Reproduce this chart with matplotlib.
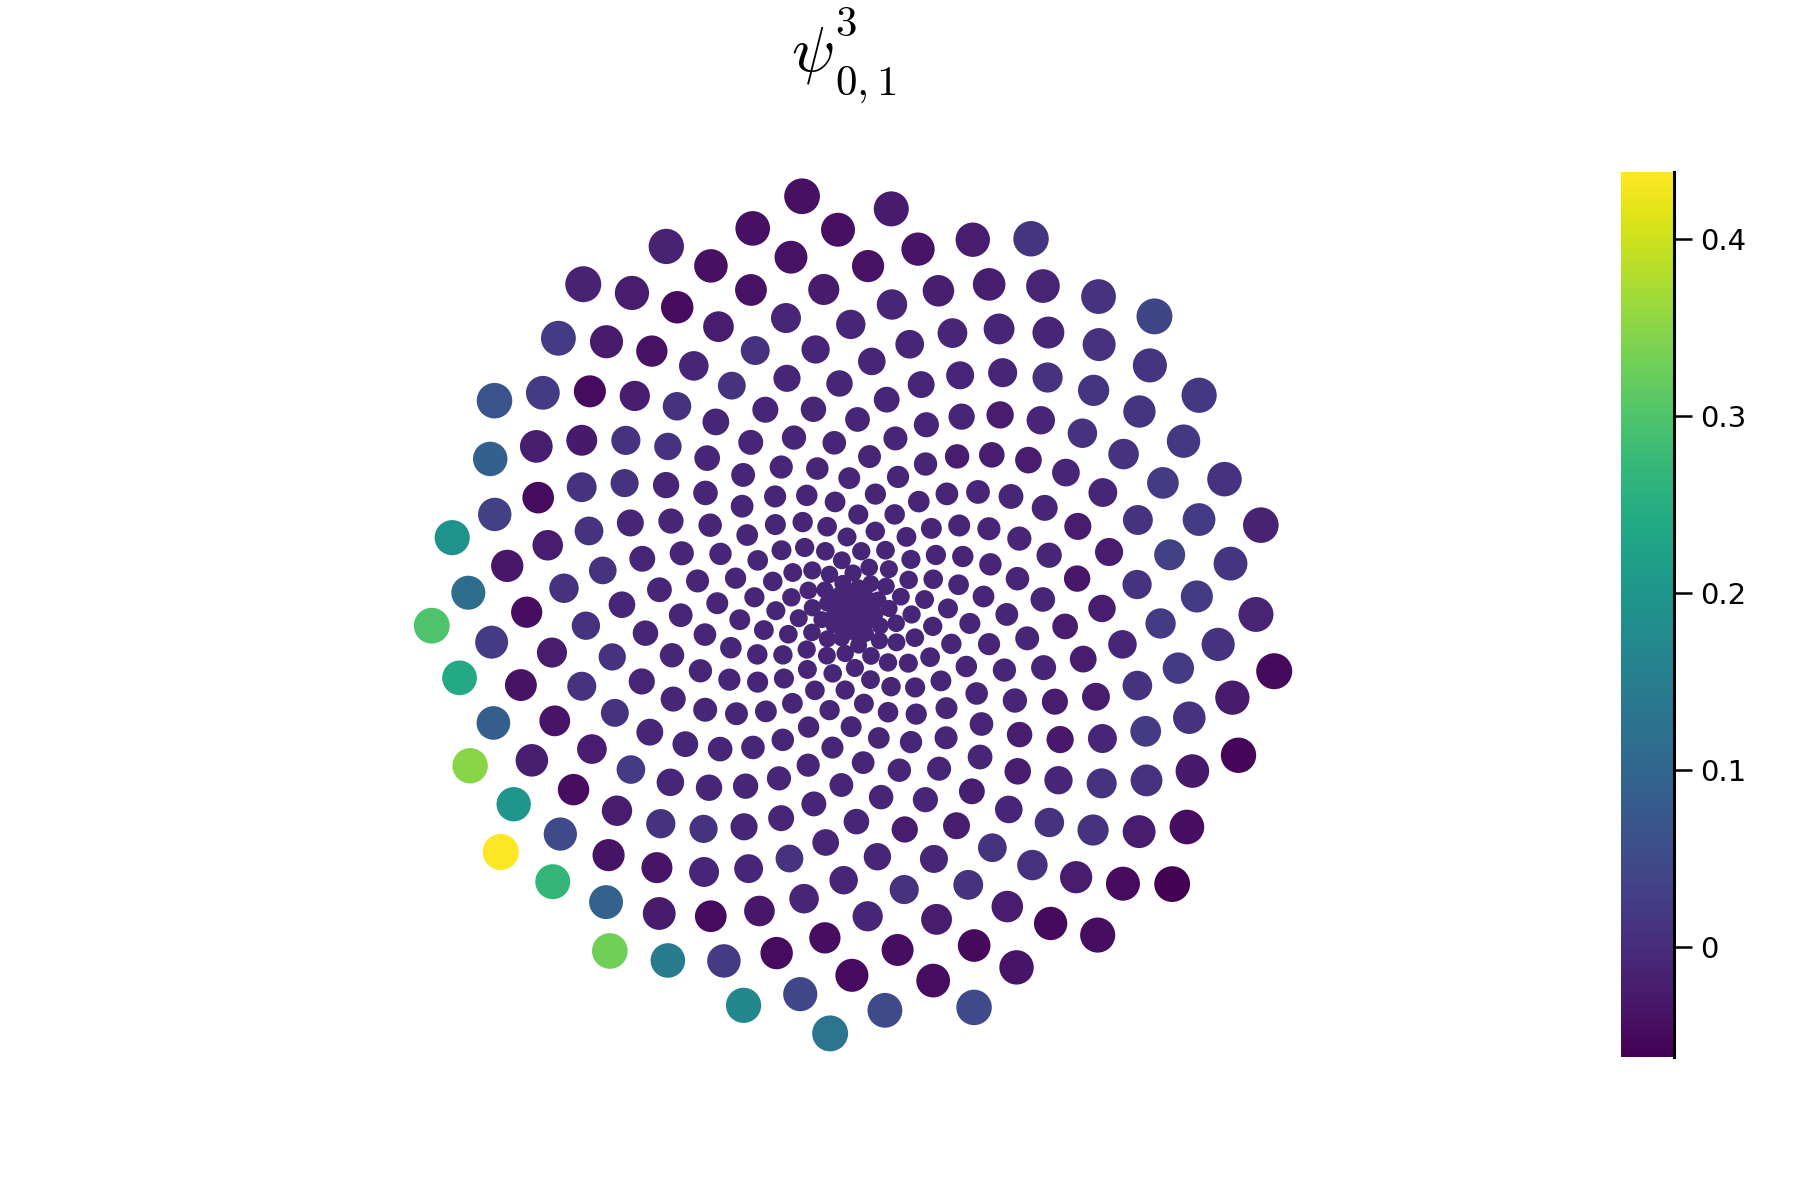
import numpy as np
import matplotlib
matplotlib.use("Agg")
import matplotlib.pyplot as plt
from matplotlib.ticker import FixedLocator, FuncFormatter

# sunflower graph, 400 nodes
N = 400
titlu_baza = r"$\psi$"
titlu_sus = r"$3$"
titlu_jos = r"$0,1$"

# valorile semnalului pe noduri (nodurile 1..400)
valori = [
    # 1-160
    -0.008, -0.008, -0.008, -0.008, -0.008, -0.008, -0.008, -0.008, -0.008, -0.008,
    -0.008, -0.008, -0.008, -0.008, -0.008, -0.008, -0.008, -0.008, -0.008, -0.008,
    -0.008, -0.008, -0.008, -0.008, -0.008, -0.008, -0.008, -0.008, -0.008, -0.008,
    -0.008, -0.008, -0.008, -0.008, -0.008, -0.008, -0.008, -0.008, -0.008, -0.008,
    -0.008, -0.008, -0.008, -0.008, -0.008, -0.008, -0.008, -0.008, -0.008, -0.008,
    -0.008, -0.008, -0.008, -0.008, -0.008, -0.008, -0.008, -0.008, -0.008, -0.008,
    -0.008, -0.008, -0.008, -0.008, -0.008, -0.008, -0.008, -0.008, -0.008, -0.008,
    -0.008, -0.008, -0.008, -0.008, -0.008, -0.008, -0.008, -0.008, -0.008, -0.008,
    -0.008, -0.008, -0.008, -0.008, -0.008, -0.008, -0.008, -0.008, -0.008, -0.008,
    -0.008, -0.008, -0.008, -0.008, -0.008, -0.008, -0.008, -0.008, -0.008, -0.008,
    -0.008, -0.008, -0.008, -0.008, -0.008, -0.008, -0.008, -0.008, -0.008, -0.008,
    -0.008, -0.008, -0.008, -0.008, -0.008, -0.008, -0.008, -0.008, -0.008, -0.008,
    -0.008, -0.008, -0.008, -0.008, -0.008, -0.008, -0.008, -0.008, -0.008, -0.008,
    -0.008, -0.008, -0.008, -0.008, -0.008, -0.008, -0.008, -0.008, -0.008, -0.008,
    -0.008, -0.008, -0.008, -0.008, -0.008, -0.008, -0.008, -0.008, -0.008, -0.008,
    -0.008, -0.008, -0.008, -0.008, -0.008, -0.008, -0.008, -0.008, -0.008, -0.008,
    # 161-200
    -0.008, -0.008, -0.008, -0.008, -0.008, -0.008, -0.008, -0.008, -0.008, -0.008,
    -0.008, -0.008, -0.008, -0.008, -0.008, -0.022, -0.008, -0.008, -0.008, -0.008,
    -0.008, -0.008, -0.008, -0.008, -0.008, -0.008, -0.008, -0.008, -0.008, -0.008,
    -0.008, -0.008, -0.008, -0.008, -0.022, -0.008, -0.022, -0.008, -0.008, -0.022,
    # 201-240
    -0.008, -0.008, -0.022, -0.008, -0.008, -0.008, -0.008, -0.022, -0.008, -0.008,
    -0.022, -0.008, -0.032, -0.008, -0.008, -0.022, -0.008, -0.022, -0.008, -0.008,
    -0.022, -0.008, -0.008, -0.022, -0.008, -0.022, -0.008, -0.008, -0.030, 0.012,
    -0.022, -0.008, 0.012, -0.022, -0.008, -0.008, -0.008, 0.012, -0.008, 0.012,
    # 241-280
    0.012, -0.022, 0.012, -0.008, -0.008, 0.012, -0.022, 0.012, -0.008, -0.008,
    0.012, -0.008, -0.008, 0.012, -0.008, 0.025, -0.008, 0.012, 0.012, -0.008,
    -0.008, 0.012, -0.008, 0.012, -0.008, 0.012, 0.012, 0.012, 0.012, -0.008,
    0.012, 0.012, 0.012, -0.008, -0.008, 0.012, -0.022, -0.008, 0.012, 0.012,
    # 281-320
    0.012, -0.008, -0.008, 0.012, -0.022, 0.012, -0.008, -0.022, 0.025, -0.022,
    -0.008, 0.012, -0.022, 0.012, -0.032, -0.022, 0.025, -0.035, -0.008, -0.022,
    -0.028, 0.035, -0.035, -0.025, 0.012, -0.045, 0.015, -0.045, -0.040, 0.025,
    -0.045, -0.020, -0.022, -0.048, 0.025, -0.048, -0.040, 0.012, -0.038, -0.008,
    # 321-360
    -0.045, -0.048, 0.025, -0.038, -0.040, -0.024, -0.032, 0.015, -0.048, -0.048,
    0.012, -0.020, -0.020, -0.050, -0.020, 0.025, -0.025, -0.040, -0.024, 0.025,
    0.010, -0.048, -0.025, 0.012, 0.050, -0.035, -0.050, 0.035, 0.020, 0.025,
    -0.042, -0.028, 0.085, -0.012, -0.045, 0.025, 0.015, 0.095, -0.042, -0.048,
    # 361-400
    0.115, 0.015, 0.045, -0.022, -0.025, 0.200, -0.022, -0.035, 0.090, 0.012,
    0.145, -0.042, -0.045, 0.240, 0.012, 0.050, 0.025, -0.012, 0.270, -0.025,
    -0.045, 0.190, 0.020, 0.172, -0.015, -0.055, 0.350, 0.015, 0.050, 0.065,
    -0.015, 0.330, -0.042, -0.062, 0.298, 0.040, 0.133, -0.015, -0.050, 0.438,
]
cb_ticks = [0.0, 0.1, 0.2, 0.3, 0.4]

# coordonatele nodurilor (spirala sunflower)
theta = (np.sqrt(5.0) - 1) * np.pi
k = np.arange(N)
X = k / N * np.cos(k * theta)
Y = k / N * np.sin(k * theta)
ms = np.linspace(4.0, 14.0, N)
diam_px = 7.1 + 2.07 * ms
s = (diam_px * 72 / 100) ** 2

plt.rcParams["mathtext.fontset"] = "cm"

fig = plt.figure(figsize=(18, 12), dpi=100)
ax = fig.add_axes([0.2124, 0.0992, 0.5228, 0.7825])
sc = ax.scatter(X, Y, s=s, c=valori, cmap="viridis", linewidths=0,
                vmin=min(valori), vmax=max(valori))
ax.set_xlim(-1.1, 1.1)
ax.set_ylim(-1.1, 1.1)
ax.axis("off")

# titlu: psi cu indici, pus pe bucati ca in GR
fig.text(0.4395, 1 - 24 / 1200, titlu_baza, ha="left", va="top", fontsize=46)
fig.text(0.4640, 1 - 3 / 1200, titlu_sus, ha="left", va="top", fontsize=31)
fig.text(0.4640, 1 - 95 / 1200, titlu_jos, ha="left", va="baseline", fontsize=31)

cax = fig.add_axes([0.9006, 0.1192, 0.0294, 0.7375])
cb = fig.colorbar(sc, cax=cax)
cb.outline.set_visible(False)
cax.spines["right"].set_visible(True)
cax.spines["right"].set_linewidth(2.2)
cax.spines["right"].set_color("black")
cax.yaxis.set_major_locator(FixedLocator(cb_ticks))
cax.yaxis.set_major_formatter(FuncFormatter(lambda v, p: "0" if v == 0 else f"{v:.1f}"))
cax.tick_params(axis="y", direction="out", length=13, width=1.8, labelsize=21, pad=6)

fig.savefig("out.png")
